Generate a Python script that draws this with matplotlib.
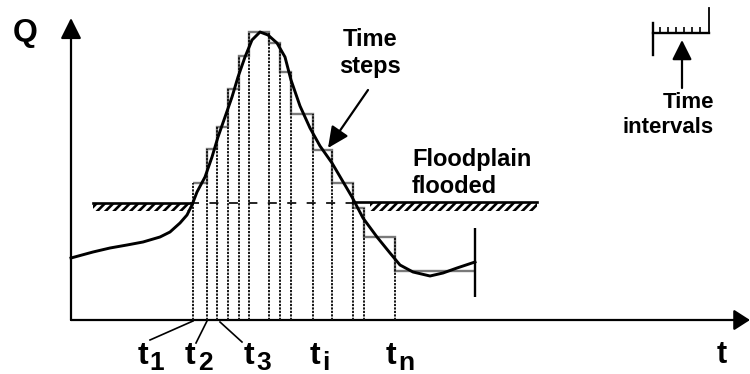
import matplotlib
matplotlib.use('Agg')
import matplotlib.pyplot as plt
from matplotlib.patches import Rectangle

plt.rcParams['font.family'] = ['Liberation Sans', 'DejaVu Sans']
plt.rcParams['font.weight'] = 'bold'
plt.rcParams['hatch.linewidth'] = 1.9
plt.rcParams['lines.scale_dashes'] = False

# hydrograph (t along the time axis, Q up the discharge axis)
hydro_t = [0, 22, 39, 56, 72, 89, 99, 109, 116, 121, 126, 134, 141, 147, 154, 161, 167, 174, 181, 189,
           197, 206, 214, 220, 229, 239, 249, 261, 271, 281, 292, 306, 319, 329, 342, 359, 372, 386, 404]
hydro_q = [62, 68, 72, 75, 78, 83, 88, 97, 105, 115, 128, 143, 163, 183, 203, 223, 243, 263, 280, 288,
           285, 277, 263, 240, 214, 192, 174, 157, 140, 123, 102, 83, 67, 55, 48, 44, 47, 52, 58]

# discretised time steps: edges and constant discharge inside each step
step_edges = [122, 136, 146, 157, 168, 178, 198, 209, 220, 242, 261, 282, 293, 324, 404]
step_q = [137, 171, 193, 231, 264, 288, 277, 248, 206, 170, 137, 112, 83, 49]

# bankfull level and the two floodplain banks
bank_q = 117
bank_left = (22, 119)
bank_right = (299, 466)
end_marker = (404, 23, 92)

tick_names = ['1', '2', '3', 'i', 'n']
tick_t = [71.5, 119, 178, 243.5, 320]
sub_t = [86, 134, 192.5, 254.5, 335.5]
leaders = [((79, -20), (122, -1)), ((125, -23), (136, -1)), ((149, -2), (171, -22))]

# small ruler symbol for the time intervals
ruler_t = [582, 638]
ruler_ticks = [589, 597, 605, 613, 621, 629]

fig = plt.figure(figsize=(7.5, 3.74), dpi=100)
ax = fig.add_axes([0, 0, 1, 1])
ax.set_xlim(-71, 679)
ax.set_ylim(-54, 320)
ax.axis('off')

# axes with arrow heads
ax.annotate('', xy=(0, 302), xytext=(0, 0),
            arrowprops=dict(arrowstyle='-|>,head_length=0.9,head_width=0.45', mutation_scale=14,
                            color='k', lw=1.6, shrinkA=0, shrinkB=0))
ax.annotate('', xy=(679, 0), xytext=(0, 0),
            arrowprops=dict(arrowstyle='-|>,head_length=0.7,head_width=0.45', mutation_scale=14,
                            color='k', lw=1.6, shrinkA=0, shrinkB=0))
ax.text(-45.5, 279, 'Q', fontsize=23, ha='center', va='baseline')
ax.text(651, -43, 't', fontsize=22, ha='center', va='baseline')

# step outline and dashed verticals at each step boundary
ax.stairs(step_q, step_edges, baseline=None, color='#7a7a7a', lw=1.7, zorder=2)
tops = [max(step_q[max(i - 1, 0)], step_q[min(i, len(step_q) - 1)]) for i in range(len(step_edges) - 1)]
ax.vlines(step_edges[:-1], 0, tops, colors='#151515', lw=1.4, linestyles=(0, (1.6, 0.9)), zorder=3)

# floodplain banks with hatching, and the bankfull level between them
for lo, hi in (bank_left, bank_right):
    ax.add_patch(Rectangle((lo, bank_q - 8), hi - lo, 8, fill=False, hatch='////', lw=0,
                           edgecolor='k', zorder=2))
ax.plot([bank_left[0], bank_left[1]], [bank_q, bank_q], color='k', lw=1.9, zorder=3)
ax.plot([282, bank_right[1]], [bank_q + 1, bank_q + 1], color='k', lw=1.9, zorder=3)
ax.plot([bank_left[1], 282], [bank_q, bank_q], color='k', lw=1.2,
        linestyle=(0, (6.5, 7.5)), zorder=3)

# hydrograph
ax.plot(hydro_t, hydro_q, color='k', lw=2.1, solid_joinstyle='round', zorder=4)
ax.vlines(end_marker[0], end_marker[1], end_marker[2], colors='k', lw=1.7, zorder=4)

# time labels under the axis
for name, tt, st in zip(tick_names, tick_t, sub_t):
    ax.text(tt, -44, 't', fontsize=23, ha='center', va='baseline')
    ax.text(st, -50, name, fontsize=19, ha='center', va='baseline')
for (a, b) in leaders:
    ax.plot([a[0], b[0]], [a[1], b[1]], color='k', lw=1.2)

# annotations
ax.text(299, 274, 'Time', fontsize=17, ha='center', va='baseline')
ax.text(299, 247, 'steps', fontsize=17, ha='center', va='baseline')
ax.annotate('', xy=(257, 172), xytext=(297, 230),
            arrowprops=dict(arrowstyle='-|>,head_length=0.85,head_width=0.4', mutation_scale=15,
                            color='k', lw=1.6, shrinkA=0, shrinkB=0))
ax.text(341, 154, 'Floodplain', fontsize=17, ha='left', va='baseline')
ax.text(341, 127, 'flooded', fontsize=17, ha='left', va='baseline')

# ruler symbol
ax.plot([ruler_t[0], ruler_t[0]], [265, 297], color='k', lw=1.7)
ax.plot(ruler_t, [287, 287], color='k', lw=1.7)
ax.vlines(ruler_ticks, 287, 293, colors='k', lw=1.2)
ax.plot([ruler_t[1], ruler_t[1]], [287, 312], color='k', lw=1.3)
ax.annotate('', xy=(611, 280), xytext=(611, 232),
            arrowprops=dict(arrowstyle='-|>,head_length=0.8,head_width=0.4', mutation_scale=15,
                            color='k', lw=1.6, shrinkA=0, shrinkB=0))
ax.text(643, 212, 'Time', fontsize=16, ha='right', va='baseline')
ax.text(643, 187, 'intervals', fontsize=16, ha='right', va='baseline')

fig.savefig('out.png', dpi=100)
